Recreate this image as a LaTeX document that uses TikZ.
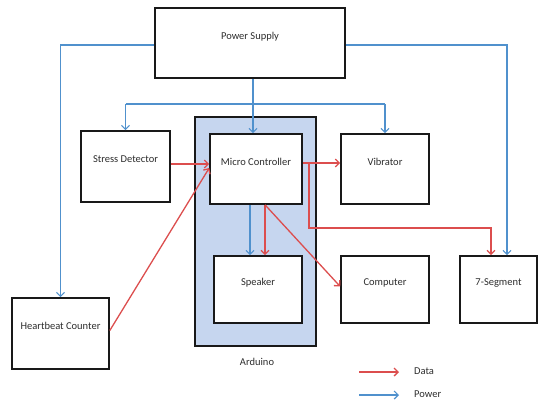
\documentclass[tikz,border=0pt]{standalone}
\usepackage{fontspec}
\setmainfont{Carlito}
\usetikzlibrary{arrows.meta}
\definecolor{pwrc}{RGB}{80,145,205}
\definecolor{datc}{RGB}{220,78,78}
\definecolor{ardc}{RGB}{198,214,239}
\definecolor{txtc}{RGB}{45,45,45}
\begin{document}
\begin{tikzpicture}[x=1pt,y=-1pt,
  every node/.style={font=\fontsize{10.5}{12}\selectfont, text=txtc},
  box/.style={draw=black!90, line width=1.6pt, fill=white, text depth=15pt, inner sep=0pt},
  pwr/.style={draw=pwrc, line width=1.2pt, -{Straight Barb[length=4pt,width=8pt]}},
  dat/.style={draw=datc, line width=1.3pt, -{Straight Barb[length=4pt,width=8pt]}},
  plain/.style={inner sep=0pt}]
\useasboundingbox (0,0) rectangle (538,402);
% Arduino container
\node[draw=black!90, line width=1.6pt, fill=ardc, minimum width=121pt, minimum height=229pt, inner sep=0pt] (ard) at (255.5,231.5) {};
\node[plain] (ardlbl) at (257,362) {Arduino};
% boxes
\node[box, minimum width=190pt, minimum height=70pt] (ps) at (250,43) {Power Supply};
\node[box, minimum width=89pt, minimum height=71pt] (sd) at (125.5,166.5) {Stress Detector};
\node[box, minimum width=92pt, minimum height=70pt] (mc) at (256,169) {Micro Controller};
\node[box, minimum width=88pt, minimum height=70pt] (vib) at (385,169) {Vibrator};
\node[box, minimum width=88pt, minimum height=67pt] (spk) at (258,289.5) {Speaker};
\node[box, minimum width=88pt, minimum height=67pt] (comp) at (385,289.5) {Computer};
\node[box, minimum width=77pt, minimum height=67pt] (seg) at (498.5,289.5) {7-Segment};
\node[box, minimum width=97pt, minimum height=71pt] (hb) at (60.5,333.5) {Heartbeat Counter};
% power connectors
\coordinate (br) at (253,104);
\draw[pwr] ([xshift=3pt]ps.south) -- ([xshift=3pt]ps.south |- mc.north);
\draw[pwr,-] (br -| sd.north) -- (br -| vib.north);
\draw[pwr] (br -| sd.north) -- (sd.north);
\draw[pwr] (br -| vib.north) -- (vib.north);
\draw[pwr] ([yshift=-2pt]ps.west) -| (hb.north);
\draw[pwr] ([yshift=-2pt]ps.east) -| ([xshift=8.5pt]seg.north);
\draw[pwr] ([xshift=-6pt]mc.south) -- ([xshift=-6pt]mc.south |- spk.north);
% data connectors
\draw[dat] ([yshift=2.5pt]sd.east) -- ([yshift=2.5pt]sd.east -| mc.west);
\draw[dat] ([yshift=3pt]hb.east) -- ([yshift=1pt]mc.west);
\draw[dat] ([yshift=6pt]mc.east) -- ([yshift=6pt]mc.east -| vib.west);
\coordinate (tap) at (309,163);
\coordinate (corner) at (491,228);
\draw[dat] (tap) |- (corner) -- (corner |- seg.north);
\draw[dat] ([xshift=9pt]mc.south) -- ([xshift=9pt]mc.south |- spk.north);
\draw[dat] ([xshift=9pt]mc.south) -- ([yshift=3pt]comp.west);
% legend
\coordinate (d1) at (359,372);
\coordinate (d2) at (399,372);
\coordinate (p1) at (359,395);
\coordinate (p2) at (399,395);
\draw[dat] (d1) -- (d2);
\draw[pwr] (p1) -- (p2);
\node[plain, anchor=west] (dlbl) at (414,371) {Data};
\node[plain, anchor=west] (plbl) at (414,394) {Power};
\end{tikzpicture}
\end{document}
